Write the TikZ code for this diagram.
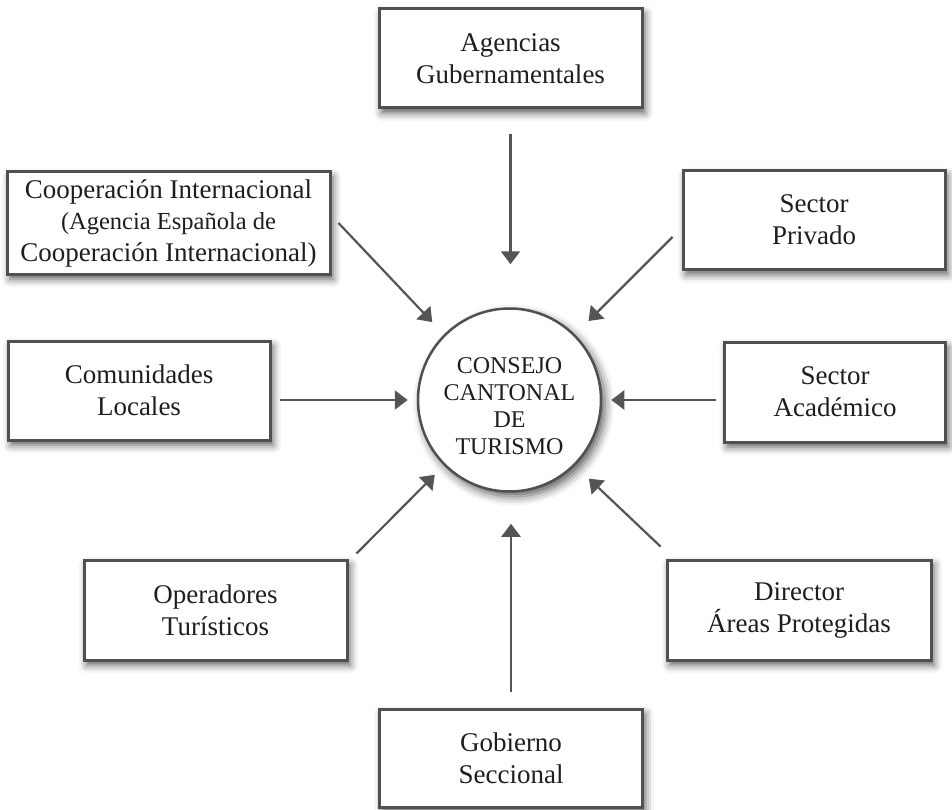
\documentclass[tikz,border=0pt]{standalone}
\usepackage{fontspec}
\setmainfont{Liberation Serif}
\usetikzlibrary{arrows.meta,shadows.blur,calc}
\definecolor{bordc}{HTML}{505050}
\definecolor{arrc}{HTML}{555555}
\definecolor{txtc}{HTML}{1E1E1E}
\tikzset{
  box/.style={draw=bordc, line width=3pt, fill=white, rectangle, align=center,
    text=txtc, font=\fontsize{27}{32}\selectfont, inner sep=0pt,
    blur shadow={shadow xshift=3pt, shadow yshift=-5pt, shadow blur radius=8pt, shadow opacity=65}},
  hub/.style={draw=bordc, line width=2.5pt, fill=white, circle, minimum size=183pt, inner sep=0pt,
    blur shadow={shadow xshift=4pt, shadow yshift=-5pt, shadow blur radius=9pt, shadow opacity=65}},
  hubtext/.style={align=center, text=txtc, font=\fontsize{24}{27}\selectfont, inner sep=0pt},
  arr/.style={draw=arrc, line width=2.2pt, -{Triangle[length=13pt,width=19pt]}}
}
\begin{document}
\begin{tikzpicture}[x=1pt,y=-1pt]
\useasboundingbox (0,0) rectangle (952,810);
\node[hub] (cc) at (509.5,400) {};
\node[hubtext] (cct) at (509.5,406) {CONSEJO\\CANTONAL\\DE\\TURISMO};
\node[box, minimum width=263pt, minimum height=99pt] (ag) at (510.5,58.5) {Agencias\\Gubernamentales};
\node[box, minimum width=323pt, minimum height=102pt] (co) at (168.5,223) {Cooperación Internacional\\[-1pt] \fontsize{24.5}{32}\selectfont (Agencia Española de\\ Cooperación Internacional)};
\node[box, minimum width=262pt, minimum height=99pt] (pr) at (814,220) {Sector\\Privado};
\node[box, minimum width=262pt, minimum height=99pt] (cl) at (139,390.5) {Comunidades\\Locales};
\node[box, minimum width=221pt, minimum height=100pt] (ac) at (835,392) {Sector\\Académico};
\node[box, minimum width=263pt, minimum height=100pt] (op) at (215.5,610) {Operadores\\Turísticos};
\node[box, minimum width=264pt, minimum height=100pt] (di) at (799,610) {Director\\Áreas Protegidas};
\node[box, minimum width=263pt, minimum height=98pt] (go) at (511,758) {Gobierno\\Seccional};
% connectors
\draw[arr, shorten >=43pt] ([yshift=-25pt]ag.south) -- (ag.south |- cc.north);
\draw[arr, shorten >=17pt] ([xshift=7pt]co.east) -- (cc.135);
\draw[arr, shorten >=19pt] ([shift={(-9,17)}]pr.west) -- (cc.45);
\draw[arr, shorten >=9pt] ([xshift=8pt]cl.east |- cc.west) -- (cc.west);
\draw[arr, shorten >=9pt] ([xshift=-7pt]ac.west |- cc.east) -- (cc.east);
\draw[arr, shorten >=13pt] ([shift={(8,-5)}]op.north east) -- (cc.225);
\draw[arr, shorten >=19pt] ([shift={(-5,-12)}]di.north west) -- (cc.315);
\draw[arr, shorten >=31pt] ([yshift=16pt]go.north) -- (go.north |- cc.south);
\end{tikzpicture}
\end{document}
